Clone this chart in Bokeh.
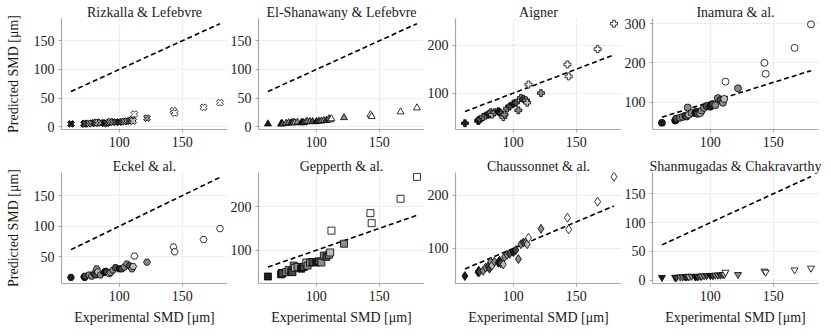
import math
from bokeh.plotting import figure
from bokeh.models import Range1d, FixedTicker
from bokeh.layouts import gridplot
from bokeh.embed import file_html
from bokeh.resources import INLINE

# ---------------- data ----------------
exp_smd = [61.5, 72, 72.5, 73, 76, 78, 80, 81, 82, 83, 85, 88, 89, 90, 92, 93,
           95, 97, 100, 102, 104, 106, 108, 110, 111, 112, 122, 143, 144, 167, 180]
shade = ["k", "k", "k", "d", "g", "g", "d", "d", "g", "l", "g", "k", "k", "d", "l", "g",
         "g", "d", "k", "d", "g", "g", "d", "g", "l", "w", "g", "w", "w", "w", "w"]

rizkalla = [5, 5, 6, 5, 6, 6, 7, 6, 8, 7, 7, 6, 7, 6, 8, 9,
            8, 8, 8, 9, 9, 10, 10, 12, 10, 22, 15, 28, 24, 34, 42]
el_shanawany = [5, 5, 6, 5, 6, 7, 7, 7, 8, 7, 8, 7, 8, 7, 9, 9,
                9, 9, 9, 10, 10, 11, 11, 14, 12, 14, 16, 21, 18, 26, 33]
aigner = [37, 42, 43, 45, 50, 53, 55, 57, 60, 55, 60, 62, 60, 58, 50, 55,
          68, 72, 78, 80, 64, 90, 88, 85, 80, 118, 100, 160, 135, 192, 245]
inamura = [47, 53, 54, 58, 60, 62, 65, 63, 86, 68, 72, 72, 75, 70, 72, 78,
           85, 90, 88, 95, 92, 110, 105, 98, 108, 152, 135, 200, 172, 238, 298]
eckel = [16, 17, 16, 18, 20, 18, 22, 20, 30, 25, 20, 24, 26, 25, 22, 24,
         28, 32, 30, 30, 33, 38, 35, 30, 34, 51, 41, 66, 58, 78, 96]
gepperth = [40, 45, 48, 47, 50, 55, 52, 50, 65, 60, 62, 58, 62, 62, 72, 65,
            72, 73, 72, 75, 72, 88, 85, 90, 95, 145, 115, 185, 162, 218, 268]
chaussonnet = [48, 55, 58, 56, 58, 64, 66, 62, 75, 68, 75, 73, 77, 72, 70, 84,
               88, 90, 93, 97, 80, 108, 111, 112, 108, 120, 137, 158, 136, 188, 235]
shanmugadas = [5, 5, 5, 5, 6, 6, 6, 6, 7, 6, 7, 6, 7, 6, 7, 7,
               8, 8, 8, 8, 9, 9, 9, 10, 10, 14, 10, 16, 14, 18, 21]

titles = ["Rizkalla & Lefebvre", "El-Shanawany & Lefebvre", "Aigner", "Inamura & al.",
          "Eckel & al.", "Gepperth & al.", "Chaussonnet & al.", "Shanmugadas & Chakravarthy"]
predictions = [rizkalla, el_shanawany, aigner, inamura, eckel, gepperth, chaussonnet, shanmugadas]
x_ticks = [100, 150]
y_ticks = [[0, 50, 100, 150], [0, 50, 100, 150], [100, 200], [100, 200, 300],
           [50, 100, 150], [100, 200], [100, 200], [0, 50, 100, 150]]
x_label = "Experimental SMD [μm]"
y_label = "Predicted SMD [μm]"

# ---------------- styling ----------------
markers = [("plus", math.pi / 4, 7), ("triangle", 0, 7), ("plus", 0, 7), ("circle", 0, 7),
           ("hex", 0, 7), ("square", 0, 7), ("diamond", 0, 9), ("inverted_triangle", 0, 7)]
y_ranges = [(-4.8, 189), (-4.8, 189), (24, 256), (30, 313),
            (6, 188), (24, 278), (34, 243), (-5.5, 187)]
x_range = (54, 186)
palette = {"k": "#1c1c1c", "d": "#4a4a4a", "g": "#8a8a8a", "l": "#bcbcbc", "w": "#ffffff"}
colors = [palette[s] for s in shade]

FONT = "Liberation Serif"
FS = "14px"
TEXT = "#1a1a1a"
SPINE = "#a8a8a8"
FRAME_W, FRAME_H = 166, 111
border_left = [61, 29, 30, 29]
border_right = [0, 0, 0, 8]
border_top = [18, 18]
border_bottom = [25, 44]

figs = []
for i in range(8):
    r, c = divmod(i, 4)
    p = figure(frame_width=FRAME_W, frame_height=FRAME_H,
               x_range=Range1d(*x_range), y_range=Range1d(*y_ranges[i]),
               output_backend="svg", toolbar_location=None,
               min_border_left=border_left[c], min_border_right=border_right[c],
               min_border_top=border_top[r], min_border_bottom=border_bottom[r])
    p.outline_line_color = None
    p.background_fill_color = "white"
    p.border_fill_color = "white"

    p.title.text = titles[i]
    p.title.align = "center"
    p.title.text_font = FONT
    p.title.text_font_size = FS
    p.title.text_font_style = "normal"
    p.title.text_color = TEXT
    p.title.standoff = -2

    xt = FixedTicker(ticks=x_ticks)
    yt = FixedTicker(ticks=y_ticks[i])
    p.xaxis.ticker = xt
    p.yaxis.ticker = yt
    p.xgrid.ticker = xt
    p.ygrid.ticker = yt
    for g in (p.xgrid, p.ygrid):
        g.grid_line_color = "#d6d6d6"
        g.grid_line_dash = "2 2"
        g.grid_line_width = 0.8
    for ax in (p.xaxis, p.yaxis):
        ax.axis_line_color = SPINE
        ax.axis_line_width = 1.2
        ax.major_tick_line_color = SPINE
        ax.major_tick_out = 3
        ax.major_tick_in = 0
        ax.minor_tick_line_color = None
        ax.major_label_text_font = FONT
        ax.major_label_text_font_size = FS
        ax.major_label_text_color = TEXT
        ax.axis_label_text_font = FONT
        ax.axis_label_text_font_size = FS
        ax.axis_label_text_font_style = "normal"
        ax.axis_label_text_color = TEXT
    p.xaxis.major_label_standoff = 4
    p.yaxis.major_label_standoff = 4
    if c == 0:
        p.yaxis.axis_label = y_label
        p.yaxis.axis_label_standoff = 10
    if r == 1:
        p.xaxis.axis_label = x_label
        p.xaxis.axis_label_standoff = 6

    lo, hi = min(exp_smd), max(exp_smd)
    p.line([lo, hi], [lo, hi], line_color="black", line_width=1.6, line_dash="5 3")

    m, ang, sz = markers[i]
    p.scatter(x=exp_smd, y=predictions[i], marker=m, angle=ang, size=sz,
              fill_color=colors, line_color="black", line_width=0.8)
    figs.append(p)

grid = gridplot([figs[:4], figs[4:]], toolbar_location=None)
open("out.html", "w").write(file_html(grid, INLINE))
